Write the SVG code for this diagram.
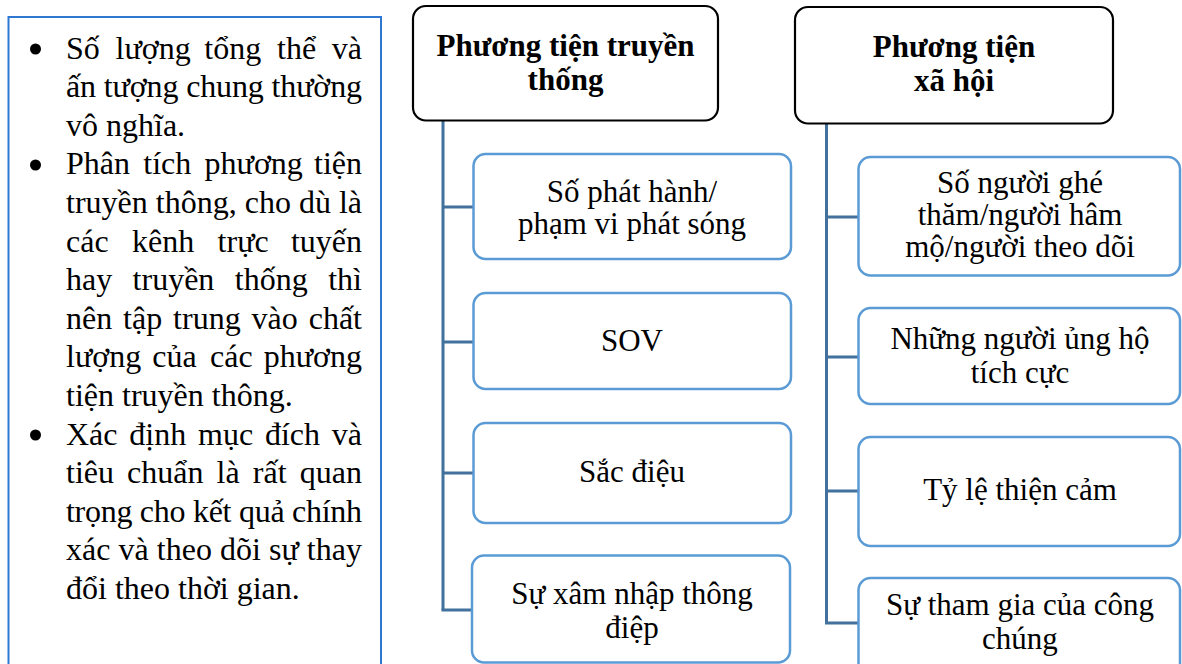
<svg xmlns="http://www.w3.org/2000/svg" width="1182" height="664" viewBox="0 0 1182 664">
<rect width="1182" height="664" fill="#fff"/>
<g id="notes">
<rect x="8.5" y="17" width="372.5" height="680" fill="none" stroke="#2E78D2" stroke-width="2"/>
<circle cx="35.5" cy="49" r="5.5" fill="#000"/>
<circle cx="35.5" cy="165" r="5.5" fill="#000"/>
<circle cx="35.5" cy="435" r="5.5" fill="#000"/>
<text font-family="Liberation Serif" font-size="32" y="58.5"><tspan x="66">Số</tspan><tspan x="115.6">lượng</tspan><tspan x="204.3">tổng</tspan><tspan x="277">thể</tspan><tspan x="362" text-anchor="end">và</tspan></text>
<text font-family="Liberation Serif" font-size="32" x="66" y="97.1" textLength="296" lengthAdjust="spacing">ấn tượng chung thường</text>
<text font-family="Liberation Serif" font-size="32" x="66" y="135.7">vô nghĩa.</text>
<text font-family="Liberation Serif" font-size="32" y="174.3"><tspan x="66">Phân</tspan><tspan x="143.3">tích</tspan><tspan x="204.6">phương</tspan><tspan x="362" text-anchor="end">tiện</tspan></text>
<text font-family="Liberation Serif" font-size="32" x="66" y="212.9" textLength="296" lengthAdjust="spacing">truyền thông, cho dù là</text>
<text font-family="Liberation Serif" font-size="32" y="251.5"><tspan x="66">các</tspan><tspan x="132">kênh</tspan><tspan x="217.6">trực</tspan><tspan x="362" text-anchor="end">tuyến</tspan></text>
<text font-family="Liberation Serif" font-size="32" y="290.1"><tspan x="66">hay</tspan><tspan x="132.6">truyền</tspan><tspan x="234.8">thống</tspan><tspan x="362" text-anchor="end">thì</tspan></text>
<text font-family="Liberation Serif" font-size="32" y="328.7"><tspan x="66">nên</tspan><tspan x="123.1">tập</tspan><tspan x="173.1">trung</tspan><tspan x="251.6">vào</tspan><tspan x="362" text-anchor="end">chất</tspan></text>
<text font-family="Liberation Serif" font-size="32" y="367.3"><tspan x="66">lượng</tspan><tspan x="152.3">của</tspan><tspan x="210.1">các</tspan><tspan x="362" text-anchor="end">phương</tspan></text>
<text font-family="Liberation Serif" font-size="32" x="66" y="405.9">tiện truyền thông.</text>
<text font-family="Liberation Serif" font-size="32" y="444.5"><tspan x="66">Xác</tspan><tspan x="129.3">định</tspan><tspan x="198">mục</tspan><tspan x="264.9">đích</tspan><tspan x="362" text-anchor="end">và</tspan></text>
<text font-family="Liberation Serif" font-size="32" y="483.1"><tspan x="66">tiêu</tspan><tspan x="127.1">chuẩn</tspan><tspan x="216.6">là</tspan><tspan x="252.8">rất</tspan><tspan x="362" text-anchor="end">quan</tspan></text>
<text font-family="Liberation Serif" font-size="32" x="66" y="521.7" textLength="296" lengthAdjust="spacing">trọng cho kết quả chính</text>
<text font-family="Liberation Serif" font-size="32" x="66" y="560.3" textLength="296" lengthAdjust="spacing">xác và theo dõi sự thay</text>
<text font-family="Liberation Serif" font-size="32" x="66" y="598.9">đổi theo thời gian.</text>
</g>
<g id="connectors" fill="none" stroke="#41719C" stroke-width="3">
<polyline points="443,121 443,610"/>
<line x1="443" y1="207" x2="473" y2="207"/>
<line x1="443" y1="342" x2="473" y2="342"/>
<line x1="443" y1="473" x2="473" y2="473"/>
<line x1="441.5" y1="610" x2="472" y2="610"/>
<polyline points="826.5,124 826.5,623"/>
<line x1="826.5" y1="217" x2="859" y2="217"/>
<line x1="826.5" y1="357" x2="859" y2="357"/>
<line x1="826.5" y1="491" x2="859" y2="491"/>
<line x1="825" y1="623" x2="859" y2="623"/>
</g>
<g id="head1">
<rect x="413" y="6" width="305" height="114.5" rx="13" fill="#fff" stroke="#000" stroke-width="2.2"/>
<text font-family="Liberation Serif" font-size="31" font-weight="bold" text-anchor="middle" x="565.5" y="56">Phương tiện truyền</text>
<text font-family="Liberation Serif" font-size="31" font-weight="bold" text-anchor="middle" x="565.5" y="90">thống</text>
</g>
<g id="head2">
<rect x="795" y="7" width="318" height="116.5" rx="13" fill="#fff" stroke="#000" stroke-width="2.2"/>
<text font-family="Liberation Serif" font-size="31" font-weight="bold" text-anchor="middle" x="954" y="57">Phương tiện</text>
<text font-family="Liberation Serif" font-size="31" font-weight="bold" text-anchor="middle" x="954" y="91">xã hội</text>
</g>
<g id="c1">
<rect x="473.5" y="154" width="317.5" height="105" rx="12" fill="#fff" stroke="#5B9BD5" stroke-width="2.5"/>
<text font-family="Liberation Serif" font-size="31" text-anchor="middle" x="632" y="201.7">Số phát hành/</text>
<text font-family="Liberation Serif" font-size="31" text-anchor="middle" x="632" y="234.3">phạm vi phát sóng</text>
</g>
<g id="c2">
<rect x="473.5" y="293" width="317.5" height="96" rx="12" fill="#fff" stroke="#5B9BD5" stroke-width="2.5"/>
<text font-family="Liberation Serif" font-size="31" text-anchor="middle" x="632" y="351">SOV</text>
</g>
<g id="c3">
<rect x="473.5" y="423" width="317.5" height="100" rx="12" fill="#fff" stroke="#5B9BD5" stroke-width="2.5"/>
<text font-family="Liberation Serif" font-size="31" text-anchor="middle" x="632" y="482">Sắc điệu</text>
</g>
<g id="c4">
<rect x="472" y="555.5" width="318" height="107" rx="12" fill="#fff" stroke="#5B9BD5" stroke-width="2.5"/>
<text font-family="Liberation Serif" font-size="31" text-anchor="middle" x="632" y="604">Sự xâm nhập thông</text>
<text font-family="Liberation Serif" font-size="31" text-anchor="middle" x="632" y="638">điệp</text>
</g>
<g id="s1">
<rect x="858.5" y="157" width="321.5" height="118.5" rx="12" fill="#fff" stroke="#5B9BD5" stroke-width="2.5"/>
<text font-family="Liberation Serif" font-size="31" text-anchor="middle" x="1020" y="192.7">Số người ghé</text>
<text font-family="Liberation Serif" font-size="31" text-anchor="middle" x="1020" y="224.5">thăm/người hâm</text>
<text font-family="Liberation Serif" font-size="31" text-anchor="middle" x="1020" y="256.7">mộ/người theo dõi</text>
</g>
<g id="s2">
<rect x="858.5" y="308" width="321.5" height="96" rx="12" fill="#fff" stroke="#5B9BD5" stroke-width="2.5"/>
<text font-family="Liberation Serif" font-size="31" text-anchor="middle" x="1020" y="349">Những người ủng hộ</text>
<text font-family="Liberation Serif" font-size="31" text-anchor="middle" x="1020" y="383">tích cực</text>
</g>
<g id="s3">
<rect x="858.5" y="437" width="321.5" height="109" rx="12" fill="#fff" stroke="#5B9BD5" stroke-width="2.5"/>
<text font-family="Liberation Serif" font-size="31" text-anchor="middle" x="1020" y="500">Tỷ lệ thiện cảm</text>
</g>
<g id="s4">
<rect x="858.5" y="578" width="321.5" height="100" rx="12" fill="#fff" stroke="#5B9BD5" stroke-width="2.5"/>
<text font-family="Liberation Serif" font-size="31" text-anchor="middle" x="1020" y="615">Sự tham gia của công</text>
<text font-family="Liberation Serif" font-size="31" text-anchor="middle" x="1020" y="649">chúng</text>
</g>
</svg>
